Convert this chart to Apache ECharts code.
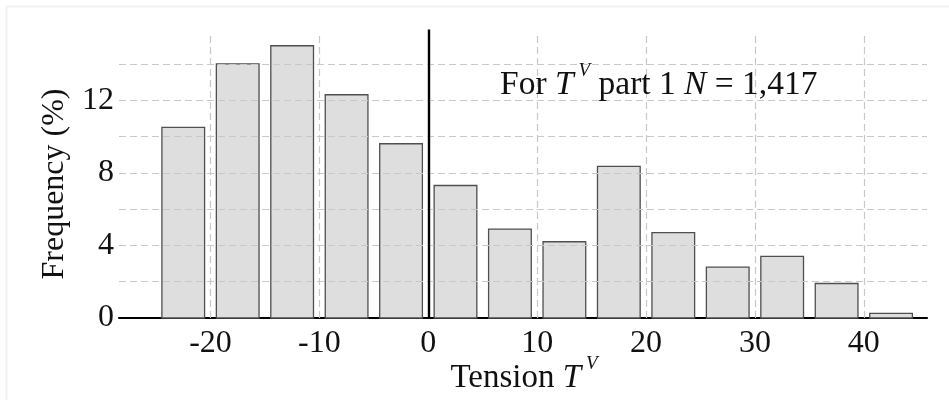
<!DOCTYPE html>
<html>
<head>
<meta charset="utf-8">
<script src="https://cdn.jsdelivr.net/npm/echarts@6/dist/echarts.min.js"></script>
<style>
  html, body { margin: 0; padding: 0; background: #ffffff; }
  #chart { width: 949px; height: 400px; }
</style>
</head>
<body>
<div id="chart"></div>
<script>
// Histogram of tension T^V (bin width 5), frequency in percent
const binStarts = [-25, -20, -15, -10, -5, 0, 5, 10, 15, 20, 25, 30, 35, 40];
const binWidth = 5;
const frequency = [10.5, 14.0, 15.0, 12.3, 9.6, 7.3, 4.9, 4.2, 8.35, 4.7, 2.8, 3.4, 1.9, 0.25];

// Tick labels and reference grid values
const xTickLabels = [-20, -10, 0, 10, 20, 30, 40];
const yTickLabels = [0, 4, 8, 12];
const xGridValues = [-20, -10, 10, 20, 30, 40];
const yGridValues = [2, 4, 6, 8, 10, 12, 14];

// Axis extents
const xMin = -28.4, xMax = 45.8;
const yMin = 0, yMax = 16;
const gridLineTop = 15.7;
const zeroLineTop = 15.9;

const SERIF = '"Liberation Serif", "Times New Roman", serif';
const FS = 32;

const histData = binStarts.map((s, i) => [s, s + binWidth, frequency[i]]);

function richStyles(size) {
  return {
    r: { fontFamily: SERIF, fontSize: size, lineHeight: 36, verticalAlign: 'bottom', fill: '#111111' },
    i: { fontFamily: SERIF, fontSize: size, fontStyle: 'italic', lineHeight: 36, verticalAlign: 'bottom', fill: '#111111' },
    s: { fontFamily: SERIF, fontSize: 19, fontStyle: 'italic', lineHeight: 20, padding: [0, 0, 22, 5], verticalAlign: 'bottom', fill: '#111111' }
  };
}

const chart = echarts.init(document.getElementById('chart'), null, { renderer: 'canvas' });

const option = {
  animation: false,
  backgroundColor: '#ffffff',
  grid: { left: 119, right: 22, top: 27.6, bottom: 82 },
  xAxis: {
    type: 'value',
    min: xMin,
    max: xMax,
    axisLine: { show: true, onZero: false, lineStyle: { color: '#000000', width: 2.2 } },
    axisTick: { show: false },
    splitLine: { show: false },
    axisLabel: {
      customValues: xTickLabels,
      fontFamily: SERIF, fontSize: FS, color: '#111111', margin: 10
    }
  },
  yAxis: {
    type: 'value',
    min: yMin,
    max: yMax,
    axisLine: { show: false },
    axisTick: { show: false },
    splitLine: { show: false },
    axisLabel: {
      customValues: yTickLabels,
      fontFamily: SERIF, fontSize: FS, color: '#111111', margin: 5
    }
  },
  graphic: [
    {
      type: 'polyline', silent: true, z: 0,
      shape: { points: [[6.5, 400], [6.5, 6.5], [949, 6.5]] },
      style: { stroke: '#edf2f5', lineWidth: 2, fill: null }
    },
    {
      type: 'text', silent: true, z: 10,
      x: 500, y: 66,
      style: {
        text: '{r|For }{i|T}{s|V}{r| part 1 }{i|N}{r| = 1,417}',
        fill: '#111111',
        rich: richStyles(33.5)
      }
    },
    {
      type: 'text', silent: true, z: 10,
      x: 524, y: 359,
      style: {
        text: '{r|Tension }{i|T}{s|V}',
        align: 'center',
        fill: '#111111',
        rich: richStyles(33)
      }
    },
    {
      type: 'text', silent: true, z: 10,
      x: 55, y: 184,
      rotation: Math.PI / 2,
      style: {
        text: 'Frequency (%)',
        font: FS + 'px ' + SERIF,
        fill: '#111111',
        align: 'center',
        verticalAlign: 'middle'
      }
    }
  ],
  series: [
    {
      // dashed reference grid, drawn beneath the bars
      type: 'line',
      data: [],
      silent: true,
      z: 1,
      markLine: {
        silent: true,
        animation: false,
        symbol: ['none', 'none'],
        label: { show: false },
        emphasis: { disabled: true },
        lineStyle: { color: '#c8c8c8', type: [7, 4], width: 1.2 },
        data: [
          ...yGridValues.map(v => ({ yAxis: v })),
          ...xGridValues.map(v => [{ coord: [v, yMin] }, { coord: [v, gridLineTop] }])
        ]
      }
    },
    {
      type: 'custom',
      z: 2,
      silent: true,
      data: histData,
      encode: { x: [0, 1], y: 2 },
      renderItem: function (params, api) {
        const x0 = api.value(0), x1 = api.value(1), v = api.value(2);
        const pLow = api.coord([x0, 0]);
        const pHigh = api.coord([x1, v]);
        const w = pHigh[0] - pLow[0];
        const inset = w * 0.108;
        return {
          type: 'rect',
          shape: {
            x: pLow[0] + inset,
            y: pHigh[1],
            width: w - 2 * inset,
            height: pLow[1] - pHigh[1]
          },
          style: { fill: '#dedede', stroke: '#4f4f4f', lineWidth: 1.3 }
        };
      },
      markLine: {
        silent: true,
        animation: false,
        symbol: ['none', 'none'],
        label: { show: false },
        emphasis: { disabled: true },
        lineStyle: { color: '#000000', type: 'solid', width: 2.4 },
        data: [[{ coord: [0, yMin] }, { coord: [0, zeroLineTop] }]]
      }
    }
  ]
};

chart.setOption(option);
</script>
</body>
</html>
